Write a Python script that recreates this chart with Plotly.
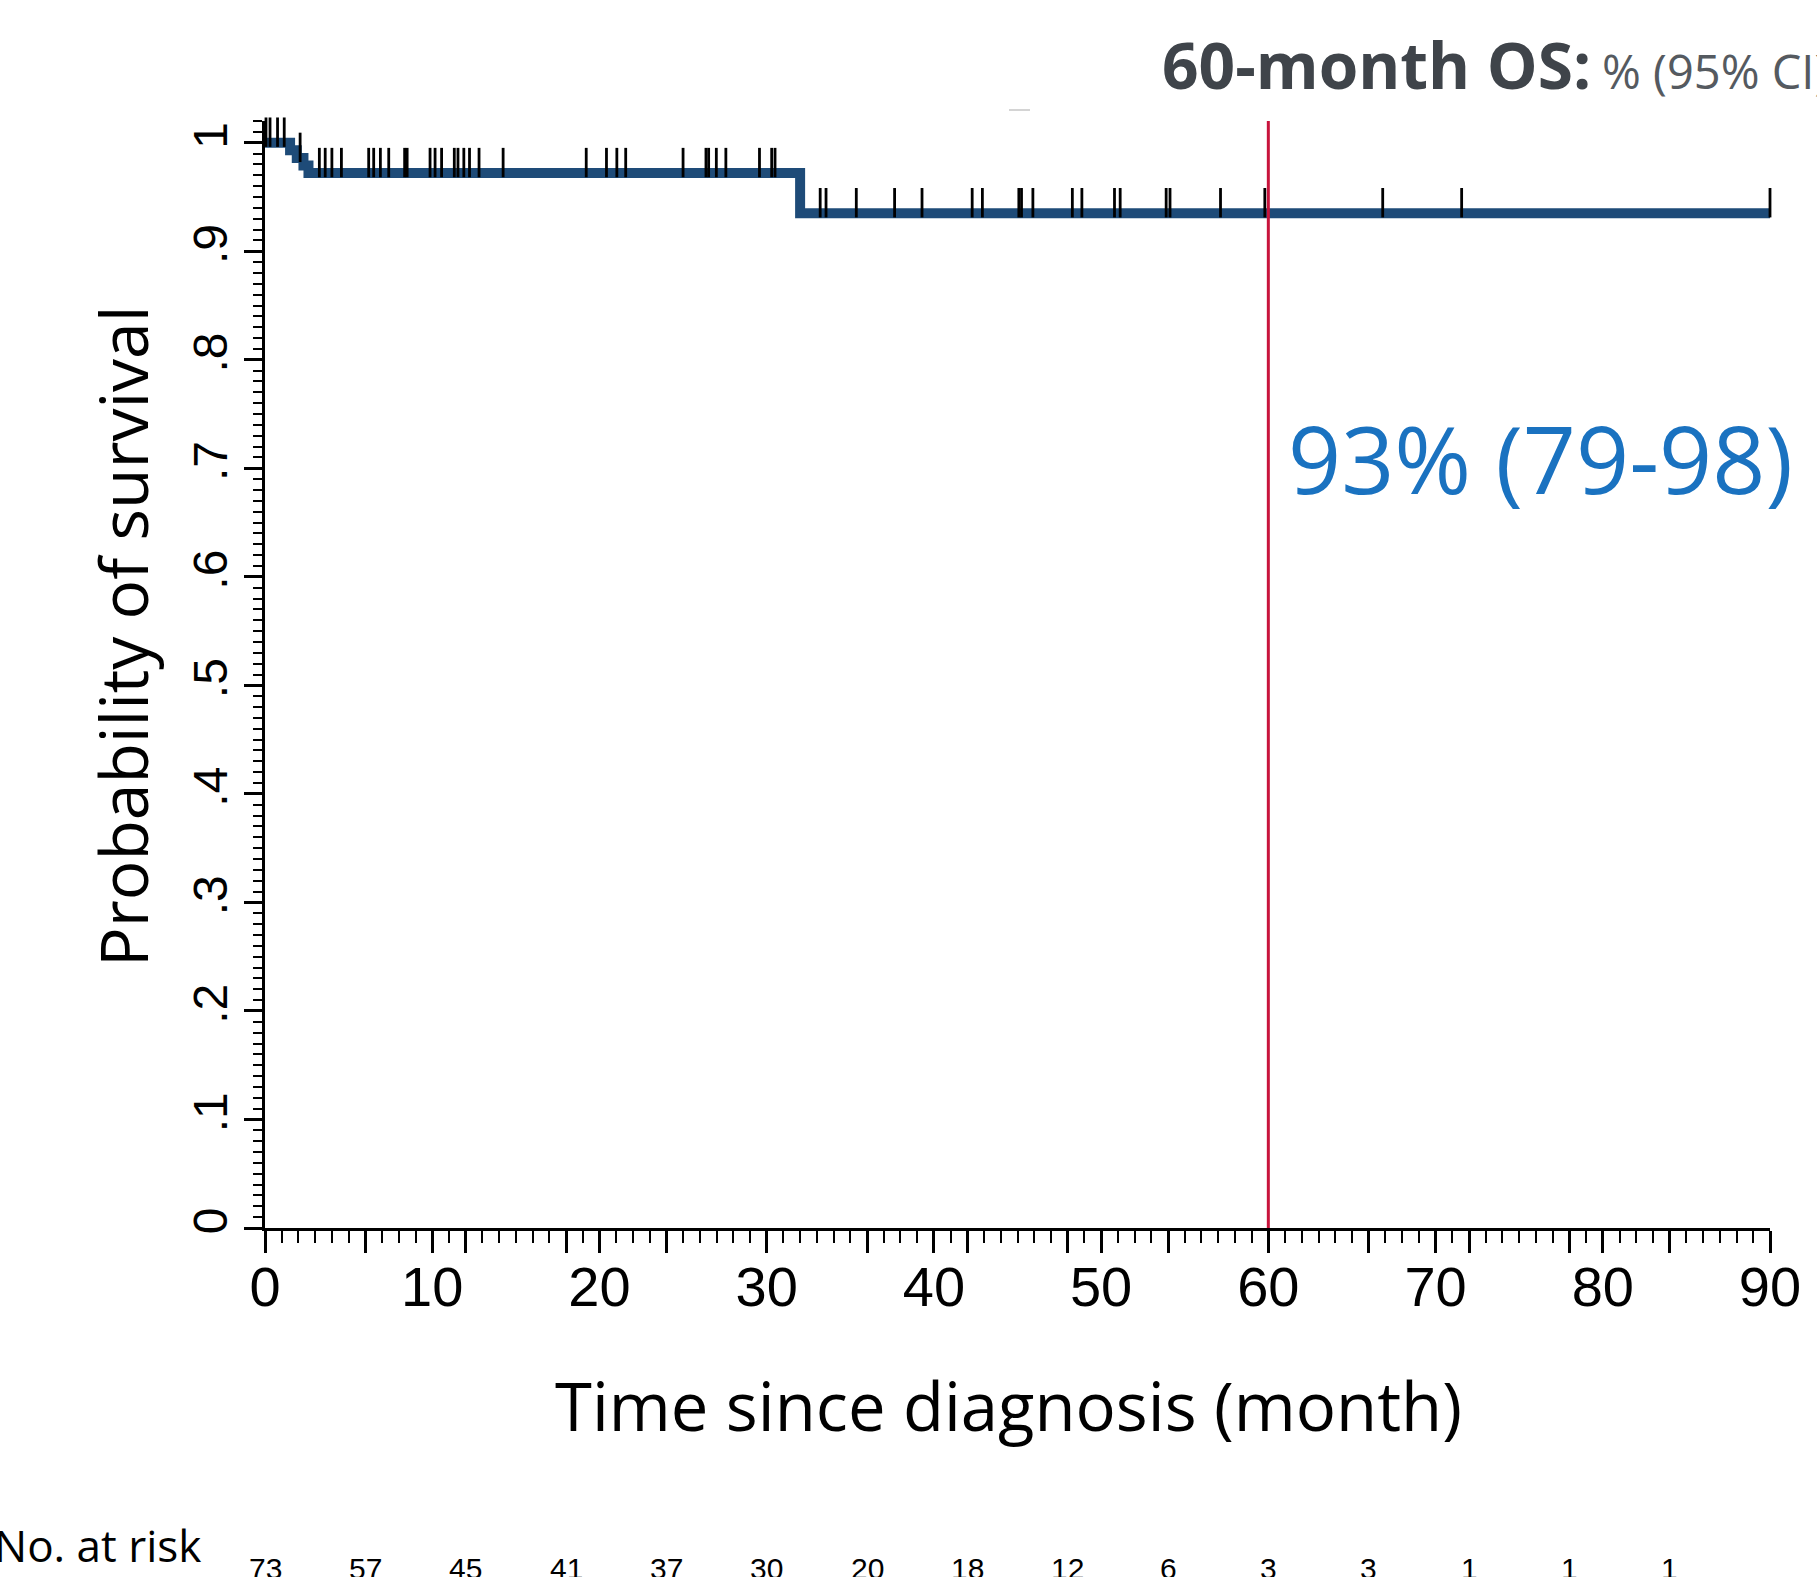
import numpy as np
import plotly.graph_objects as go

# ---------------- data ----------------
step_times = [0, 1.5, 1.9, 2.3, 2.6, 32.0, 90.0]
step_surv = [1.0, 0.993, 0.986, 0.979, 0.972, 0.935, 0.935]

censor_times = [0.06, 0.3, 0.75, 1.15, 2.1, 3.25, 3.6, 4.0, 4.57, 6.2, 6.5, 6.9, 7.4,
                8.35, 8.5, 9.87, 10.17, 10.56, 11.32, 11.54, 11.89, 12.23, 12.8, 14.24,
                19.21, 20.42, 21.04, 21.57, 25.0, 26.37, 26.53, 26.99, 27.56, 29.57,
                30.3, 30.5, 33.2, 33.55, 35.36, 37.65, 39.29, 42.29, 42.9, 45.08, 45.24,
                45.92, 48.28, 48.85, 50.8, 51.14, 53.89, 54.12, 57.14, 59.79, 66.84,
                71.56, 90.0]

risk_times = [0, 6, 12, 18, 24, 30, 36, 42, 48, 54, 60, 66, 72, 78, 84]
risk_counts = [73, 57, 45, 41, 37, 30, 20, 18, 12, 6, 3, 3, 1, 1, 1]

x_label_vals = [0, 10, 20, 30, 40, 50, 60, 70, 80, 90]
y_tick_vals = [0, 0.1, 0.2, 0.3, 0.4, 0.5, 0.6, 0.7, 0.8, 0.9, 1.0]
y_tick_text = ["0", ".1", ".2", ".3", ".4", ".5", ".6", ".7", ".8", ".9", "1"]

landmark_month = 60
landmark_text = "93% (79-98)"

# ---------------- style ----------------
W, H = 1817, 1577
L, R, T, B = 265, 47, 121, 349
PW, PH = W - L - R, H - T - B
Y_MAX = 1.02
TICK_OFFSET = 0.0097
CURVE_COLOR = "#1e4b78"
TITLE_FONT = "Open Sans, Lato, sans-serif"
NUM_FONT = "Liberation Sans Narrow, Liberation Sans, Arial, sans-serif"


def px_x(px):
    return (px - L) / PW


def px_y(py):
    return (H - B - py) / PH


st = np.array(step_times)
sv = np.array(step_surv)
ct = np.array(censor_times)
c_surv = sv[np.searchsorted(st, ct, side="right") - 1]

x_major = sorted(set(range(0, 91, 6)) | set(x_label_vals))
x_text = [str(v) if v in x_label_vals else "" for v in x_major]

fig = go.Figure()
fig.add_trace(go.Scatter(
    x=step_times, y=step_surv, mode="lines", line=dict(shape="hv", color=CURVE_COLOR, width=10),
    cliponaxis=False, hoverinfo="skip", showlegend=False))
fig.add_trace(go.Scatter(
    x=ct, y=c_surv + TICK_OFFSET, mode="markers",
    marker=dict(symbol="line-ns", size=21, line=dict(color="black", width=2.8)),
    cliponaxis=False, hoverinfo="skip", showlegend=False))

fig.add_shape(type="line", x0=landmark_month, x1=landmark_month, y0=0, y1=Y_MAX,
              xref="x", yref="y", line=dict(color="#c8143c", width=3), layer="above")

fig.add_shape(type="line", x0=px_x(1009), x1=px_x(1030), y0=px_y(110), y1=px_y(110),
              xref="paper", yref="paper", line=dict(color="#d4d4d4", width=2))

fig.update_xaxes(
    range=[0, 90], automargin=False, showline=True, linecolor="black", linewidth=3, showgrid=False,
    zeroline=False, tickmode="array", tickvals=x_major, ticktext=x_text, ticks="outside", ticklen=22,
    tickwidth=2.5, tickcolor="black", tickfont=dict(family=NUM_FONT, size=56, color="black"),
    ticklabelstandoff=-14,
    minor=dict(ticks="outside", dtick=1, tick0=0, ticklen=12, tickwidth=2, tickcolor="black", showgrid=False))
fig.update_yaxes(
    range=[0, Y_MAX], automargin=False, showline=True, linecolor="black", linewidth=3, showgrid=False,
    zeroline=False, tickmode="array", tickvals=y_tick_vals, ticktext=y_tick_text, ticks="outside",
    ticklen=18, tickwidth=2.5, tickcolor="black", tickangle=-90,
    tickfont=dict(family="Liberation Sans, Arial, sans-serif", size=48, color="black"),
    ticklabelstandoff=-2,
    minor=dict(ticks="outside", dtick=0.01, tick0=0, ticklen=9, tickwidth=2, tickcolor="black", showgrid=False))

ann = []
ann.append(dict(text="Time since diagnosis (month)", x=px_x(1008), y=px_y(1405), xref="paper", yref="paper",
                showarrow=False, xanchor="center", yanchor="middle",
                font=dict(family=TITLE_FONT, size=67, color="black")))
ann.append(dict(text="Probability of survival", x=px_x(122), y=px_y(637), xref="paper", yref="paper",
                showarrow=False, xanchor="center", yanchor="middle", textangle=-90,
                font=dict(family=TITLE_FONT, size=66, color="black")))
ann.append(dict(text="<b>60-month OS:</b>", x=px_x(1160), y=px_y(64), xref="paper", yref="paper",
                showarrow=False, xanchor="left", yanchor="middle",
                font=dict(family=TITLE_FONT, size=64, color="#3f444a")))
ann.append(dict(text="% (95% CI)", x=px_x(1600), y=px_y(71), xref="paper", yref="paper",
                showarrow=False, xanchor="left", yanchor="middle",
                font=dict(family=TITLE_FONT, size=47, color="#555a60")))
ann.append(dict(text=landmark_text, x=px_x(1286), y=px_y(458), xref="paper", yref="paper",
                showarrow=False, xanchor="left", yanchor="middle",
                font=dict(family=TITLE_FONT, size=93, color="#1a72c0")))
ann.append(dict(text="No. at risk", x=px_x(203), y=px_y(1545), xref="paper", yref="paper",
                showarrow=False, xanchor="right", yanchor="middle",
                font=dict(family=TITLE_FONT, size=44, color="black")))
for t, n in zip(risk_times, risk_counts):
    ann.append(dict(text=str(n), x=t, y=px_y(1550), xref="x", yref="paper",
                    showarrow=False, xanchor="center", yanchor="top",
                    font=dict(family=NUM_FONT, size=30, color="black")))

fig.update_layout(
    width=W, height=H, margin=dict(l=L, r=R, t=T, b=B, pad=0),
    paper_bgcolor="white", plot_bgcolor="white", annotations=ann, showlegend=False)

fig.write_html("out.html", config={"displayModeBar": False},
               post_script="document.body.style.margin='0px';document.body.style.overflow='hidden';")
